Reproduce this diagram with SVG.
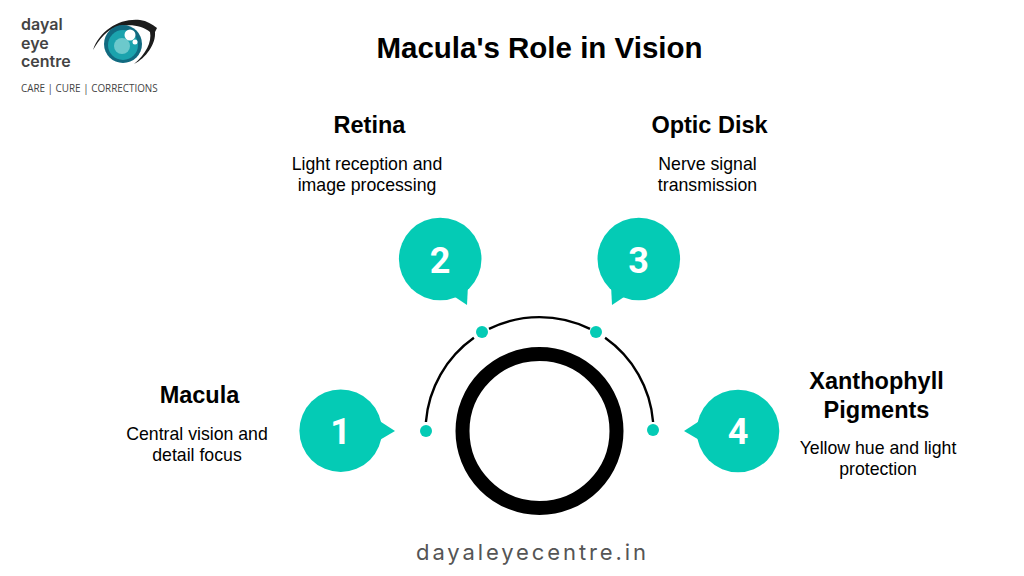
<svg xmlns="http://www.w3.org/2000/svg" width="1024" height="576" viewBox="0 0 1024 576">
<style>
text{font-family:"Liberation Sans",Arial,sans-serif;text-anchor:middle;fill:#000}
.h{font-size:23.5px;font-weight:700}
.d{font-size:17.7px}
.n{font-family:Roboto,"Liberation Sans",sans-serif;font-size:36px;font-weight:700;fill:#fff}
.b{fill:#04cbb5}
.arc{fill:none;stroke:#000;stroke-width:2.4}
.logo{font-family:Inter,"Open Sans",sans-serif;text-anchor:start;font-size:16px;font-weight:600;fill:#444}
</style>
<rect width="1024" height="576" fill="#fff"/>
<g id="logo">
<text class="logo" x="21" y="30">dayal</text>
<text class="logo" x="21" y="49">eye</text>
<text class="logo" x="21" y="67">centre</text>
<text x="21" y="92" style="text-anchor:start;font-family:'Open Sans',sans-serif;font-size:9.9px;fill:#444">CARE | CURE | CORRECTIONS</text>
<path d="M93 50C100 30 120 18 140 20C147 21 152 24 157 28L155 32C156 44 146 58 134 64C146 54 152 42 150 32C140 23 116 22 104 35C99 40 96 45 93 50Z" fill="#1c1c1c"/>
<circle cx="123" cy="44" r="19" fill="#116a80"/>
<circle cx="123" cy="45" r="15" fill="#1ba3ad"/>
<circle cx="122" cy="46" r="8" fill="#6cc9cc"/>
<circle cx="130" cy="35" r="5.500" fill="#fff"/>
<circle cx="135" cy="42" r="2.500" fill="#fff"/>
</g>
<text id="title" x="539.500" y="57.500" style="font-size:29.500px;font-weight:700">Macula's Role in Vision</text>
<g id="connectors">
<path class="arc" d="M425.900 422A114 114 0 0 1 473.900 337.800"/>
<path class="arc" d="M489 328.900A114 114 0 0 1 590 328.900"/>
<path class="arc" d="M605.100 337.800A114 114 0 0 1 653.100 422"/>
</g>
<g id="dots">
<circle class="b" cx="426" cy="431" r="6"/>
<circle class="b" cx="482" cy="332" r="6"/>
<circle class="b" cx="596" cy="332" r="6"/>
<circle class="b" cx="653" cy="430" r="6"/>
</g>
<g id="ring"><circle cx="539.500" cy="431" r="77" fill="none" stroke="#000" stroke-width="14"/></g>
<g id="node1">
<circle class="b" cx="340.700" cy="430.700" r="41.300"/><path class="b" d="M378 420L395 431L378 441Z"/>
<text class="n" x="340.700" y="444">1</text>
<text class="h" x="199.500" y="403">Macula</text>
<text class="d" x="197" y="439.500">Central vision and</text>
<text class="d" x="197" y="460.500">detail focus</text>
</g>
<g id="node2">
<circle class="b" cx="440.200" cy="259" r="41.300"/><path class="b" d="M452 295L467 305L468 285Z"/>
<text class="n" x="440" y="273">2</text>
<text class="h" x="369.500" y="133">Retina</text>
<text class="d" x="367" y="170">Light reception and</text>
<text class="d" x="367" y="191">image processing</text>
</g>
<g id="node3">
<circle class="b" cx="638.800" cy="259" r="41.300"/><path class="b" d="M627 295L612 305L611 285Z"/>
<text class="n" x="638.700" y="273">3</text>
<text class="h" x="709.500" y="133">Optic Disk</text>
<text class="d" x="707.500" y="170">Nerve signal</text>
<text class="d" x="707.500" y="191">transmission</text>
</g>
<g id="node4">
<circle class="b" cx="738" cy="431" r="41.300"/><path class="b" d="M701 420L684 431L701 441Z"/>
<text class="n" x="738" y="444">4</text>
<text class="h" x="876.500" y="389">Xanthophyll</text>
<text class="h" x="876.500" y="418">Pigments</text>
<text class="d" x="878" y="454">Yellow hue and light</text>
<text class="d" x="878" y="475">protection</text>
</g>
<text id="footer" x="532.500" y="560" style="font-family:Inter,'Open Sans',sans-serif;font-size:22px;letter-spacing:2.900px;fill:#555">dayaleyecentre.in</text>
</svg>
